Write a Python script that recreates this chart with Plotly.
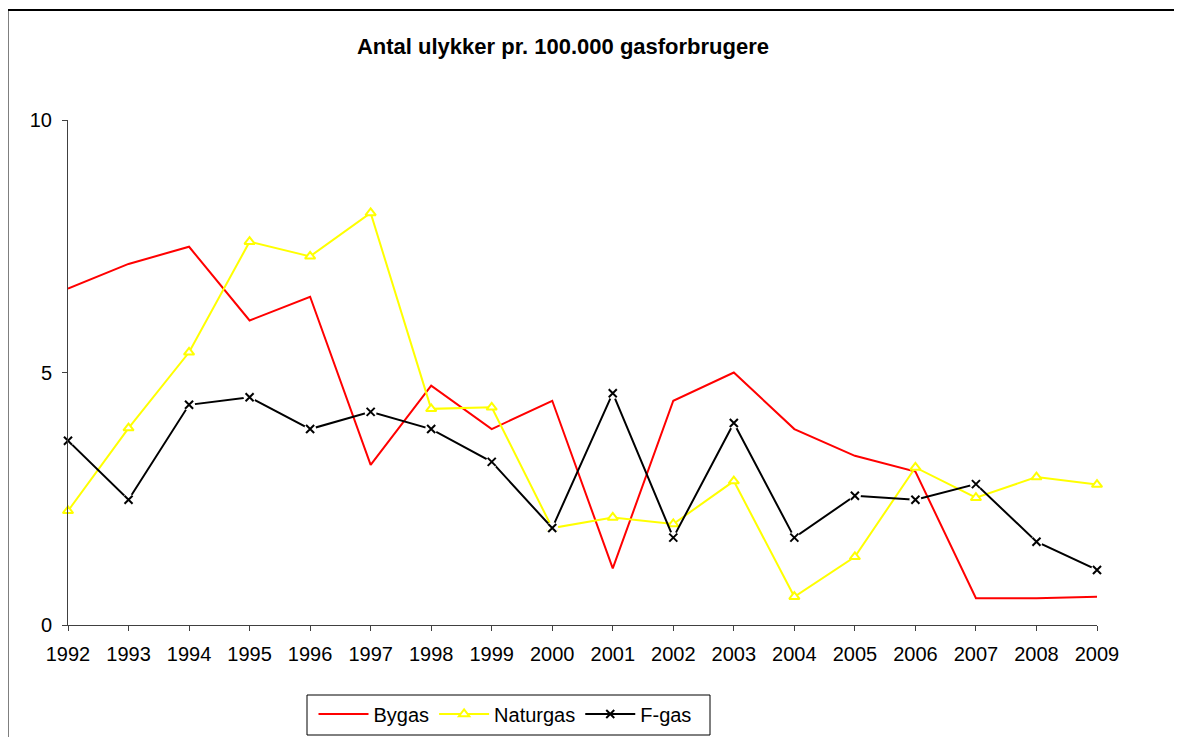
import plotly.graph_objects as go

years = [1992, 1993, 1994, 1995, 1996, 1997, 1998, 1999, 2000,
         2001, 2002, 2003, 2004, 2005, 2006, 2007, 2008, 2009]
bygas = [6.66, 7.15, 7.49, 6.03, 6.50, 3.17, 4.74, 3.88, 4.44,
         1.12, 4.44, 5.00, 3.88, 3.35, 3.04, 0.53, 0.53, 0.56]
naturgas = [2.26, 3.90, 5.40, 7.59, 7.30, 8.16, 4.28, 4.31, 1.92,
            2.13, 2.00, 2.85, 0.56, 1.35, 3.12, 2.52, 2.93, 2.78]
fgas = [3.65, 2.48, 4.36, 4.51, 3.88, 4.22, 3.88, 3.23, 1.92,
        4.59, 1.73, 4.00, 1.73, 2.56, 2.48, 2.79, 1.65, 1.09]
y_ticks = [0, 5, 10]
title_text = "Antal ulykker pr. 100.000 gasforbrugere"

FONT = "Liberation Sans, Arial, sans-serif"
OFF = 8  # page body margin
W, H = 1182 - OFF, 737 - OFF
L, R, T, B = 60, 85, 112, 112
pw, ph = W - L - R, H - T - B


def px_x(p):
    return (p - OFF - L) / pw


def px_y(p):
    return (H - B - (p - OFF)) / ph


def cont_y(p):
    return 1 - (p - OFF) / H


fig = go.Figure()
fig.add_trace(go.Scatter(x=years, y=bygas, name="Bygas", mode="lines",
                         line=dict(color="#FF0000", width=2), cliponaxis=False))
fig.add_trace(go.Scatter(x=years, y=naturgas, name="Naturgas", mode="lines+markers",
                         line=dict(color="#FFFF00", width=2),
                         marker=dict(symbol="triangle-up", size=9, color="white",
                                     line=dict(color="#FFFF00", width=2)),
                         cliponaxis=False))
fig.add_trace(go.Scatter(x=years, y=fgas, name="F-gas", mode="lines+markers",
                         line=dict(color="black", width=2),
                         marker=dict(symbol="x-thin", size=8, color="black",
                                     line=dict(color="black", width=2)),
                         cliponaxis=False))
# white background behind the x markers (gap in lines like the original)
fig.add_trace(go.Scatter(x=years, y=fgas, mode="markers", showlegend=False,
                         marker=dict(symbol="circle", size=12, color="white",
                                     line=dict(width=0)),
                         hoverinfo="skip", cliponaxis=False))
fig.add_trace(go.Scatter(x=years, y=fgas, mode="markers", showlegend=False,
                         marker=dict(symbol="x-thin", size=8, color="black",
                                     line=dict(color="black", width=2)),
                         hoverinfo="skip", cliponaxis=False))

fig.update_layout(
    width=W, height=H,
    margin=dict(l=L, r=R, t=T, b=B, autoexpand=False),
    paper_bgcolor="white", plot_bgcolor="white",
    font=dict(family=FONT, size=20, color="black"),
    title=dict(text="<b>" + title_text + "</b>", font=dict(family=FONT, size=22, color="black"),
               x=px_x(563), xref="paper", xanchor="center",
               y=cont_y(46), yref="container", yanchor="middle"),
    xaxis=dict(range=[years[0], years[-1]], tickmode="array", tickvals=years,
               ticktext=[str(y) for y in years],
               showline=True, linecolor="#404040", linewidth=1,
               ticks="outside", ticklen=5, tickcolor="#404040",
               ticklabelstandoff=6,
               showgrid=False, zeroline=False,
               tickfont=dict(family=FONT, size=20, color="black")),
    yaxis=dict(range=[0, 10], tickmode="array", tickvals=y_ticks,
               showline=True, linecolor="#404040", linewidth=1,
               ticks="outside", ticklen=5, tickcolor="#404040",
               showgrid=False, zeroline=False,
               ticklabelstandoff=6,
               tickfont=dict(family=FONT, size=20, color="black")),
    legend=dict(orientation="h", x=px_x(505), xanchor="center",
                y=cont_y(714), yref="container", yanchor="middle",
                borderwidth=0, bgcolor="rgba(0,0,0,0)",
                font=dict(family=FONT, size=20, color="black"),
                itemwidth=50, tracegroupgap=0),
    shapes=[dict(type="rect", xref="paper", yref="paper",
                 x0=px_x(7.5), x1=px_x(1200), y0=px_y(10), y1=px_y(760),
                 line=dict(color="black", width=2), fillcolor="rgba(0,0,0,0)",
                 layer="below"),
            dict(type="rect", xref="paper", yref="paper",
                 x0=px_x(307), x1=px_x(710), y0=px_y(695), y1=px_y(735),
                 line=dict(color="black", width=1), fillcolor="rgba(0,0,0,0)",
                 layer="below")],
    showlegend=True,
)

fig.write_html("out.html")
